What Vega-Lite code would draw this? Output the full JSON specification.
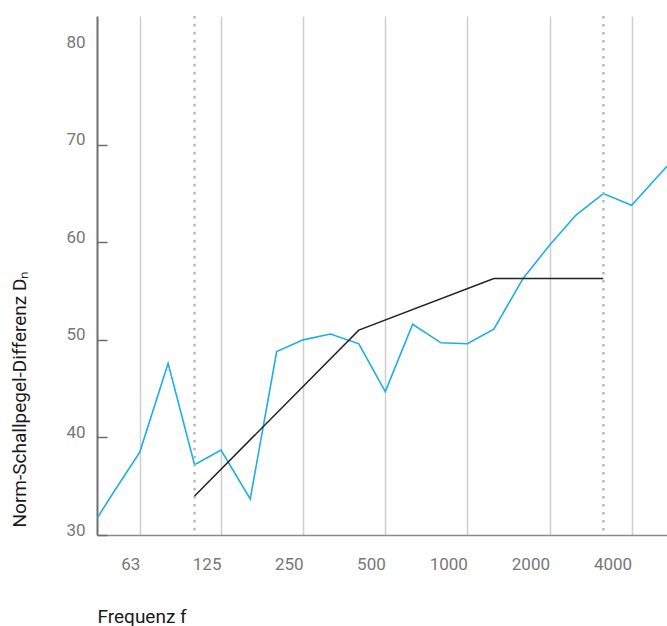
{
  "$schema": "https://vega.github.io/schema/vega-lite/v6.json",
  "width": 570,
  "height": 519,
  "autosize": {"type": "none"},
  "padding": {"left": 97, "top": 16, "right": 0, "bottom": 91},
  "background": "white",
  "config": {
    "view": {"stroke": null},
    "font": "Roboto"
  },
  "datasets": {
    "messung": [
      {"f": 43.9, "D": 31.7},
      {"f": 50, "D": 34.2},
      {"f": 63, "D": 38.5},
      {"f": 80, "D": 47.6},
      {"f": 100, "D": 37.2},
      {"f": 125, "D": 38.7},
      {"f": 160, "D": 33.7},
      {"f": 200, "D": 48.8},
      {"f": 250, "D": 50.0},
      {"f": 315, "D": 50.6},
      {"f": 400, "D": 49.6},
      {"f": 500, "D": 44.7},
      {"f": 630, "D": 51.6},
      {"f": 800, "D": 49.7},
      {"f": 1000, "D": 49.6},
      {"f": 1250, "D": 51.1},
      {"f": 1600, "D": 56.3},
      {"f": 2000, "D": 59.7},
      {"f": 2500, "D": 62.8},
      {"f": 3150, "D": 65.0},
      {"f": 4000, "D": 63.8},
      {"f": 5000, "D": 66.8},
      {"f": 5390, "D": 67.8}
    ],
    "bezug": [
      {"f": 100, "D": 34.0},
      {"f": 400, "D": 51.0},
      {"f": 1250, "D": 56.3},
      {"f": 3150, "D": 56.3}
    ],
    "grenzen": [
      {"f": 100},
      {"f": 3150}
    ]
  },
  "layer": [
    {
      "data": {"name": "messung"},
      "mark": {"type": "line", "color": "#1eaee6", "strokeWidth": 1.6, "clip": true},
      "encoding": {
        "x": {
          "field": "f",
          "type": "quantitative",
          "scale": {"type": "log", "domain": [43.9, 5390], "nice": false},
          "axis": {
            "values": [63, 125, 250, 500, 1000, 2000, 4000],
            "format": "d",
            "grid": true,
            "gridColor": "#cfcfcf",
            "gridWidth": 1.5,
            "domainColor": "#8a8a8a",
            "domainWidth": 1.5,
            "ticks": false,
            "labelAlign": "right",
            "labelBaseline": "top",
            "labelPadding": 21,
            "labelFontSize": 17,
            "labelColor": "#777777",
            "labelFlush": false,
            "labelOverlap": false,
            "title": "Frequenz f",
            "titleFontSize": 19,
            "titleFontWeight": "normal",
            "titleColor": "#1a1a1a",
            "titleAlign": "left",
            "titleBaseline": "alphabetic",
            "titleAnchor": "start",
            "titleX": 0,
            "titleY": 87
          }
        },
        "y": {
          "field": "D",
          "type": "quantitative",
          "scale": {"domain": [30, 83.2], "nice": false, "zero": false},
          "axis": {
            "values": [30, 40, 50, 60, 70, 80],
            "grid": false,
            "domainColor": "#6e6e6e",
            "domainWidth": 2,
            "tickColor": {"condition": {"test": "datum.value == 80", "value": "transparent"}, "value": "#6e6e6e"},
            "tickWidth": 1.5,
            "tickSize": -10,
            "labelAlign": "right",
            "labelBaseline": "middle",
            "labelPadding": 22,
            "labelOffset": -5,
            "labelFontSize": 17,
            "labelColor": "#777777",
            "labelFlush": false,
            "labelOverlap": false,
            "title": "Norm-Schallpegel-Differenz Dₙ",
            "titleFontSize": 19,
            "titleFontWeight": "normal",
            "titleColor": "#1a1a1a",
            "titleAngle": 270,
            "titleAlign": "left",
            "titleBaseline": "middle",
            "titleAnchor": "start",
            "titleX": -78,
            "titleY": 511
          }
        }
      }
    },
    {
      "data": {"name": "grenzen"},
      "mark": {"type": "rule", "color": "#b8b8b8", "strokeWidth": 2.5, "strokeDash": [2.5, 5.5]},
      "encoding": {
        "x": {"field": "f", "type": "quantitative"}
      }
    },
    {
      "data": {"name": "bezug"},
      "mark": {"type": "line", "color": "#222222", "strokeWidth": 1.5},
      "encoding": {
        "x": {"field": "f", "type": "quantitative"},
        "y": {"field": "D", "type": "quantitative"}
      }
    }
  ]
}
